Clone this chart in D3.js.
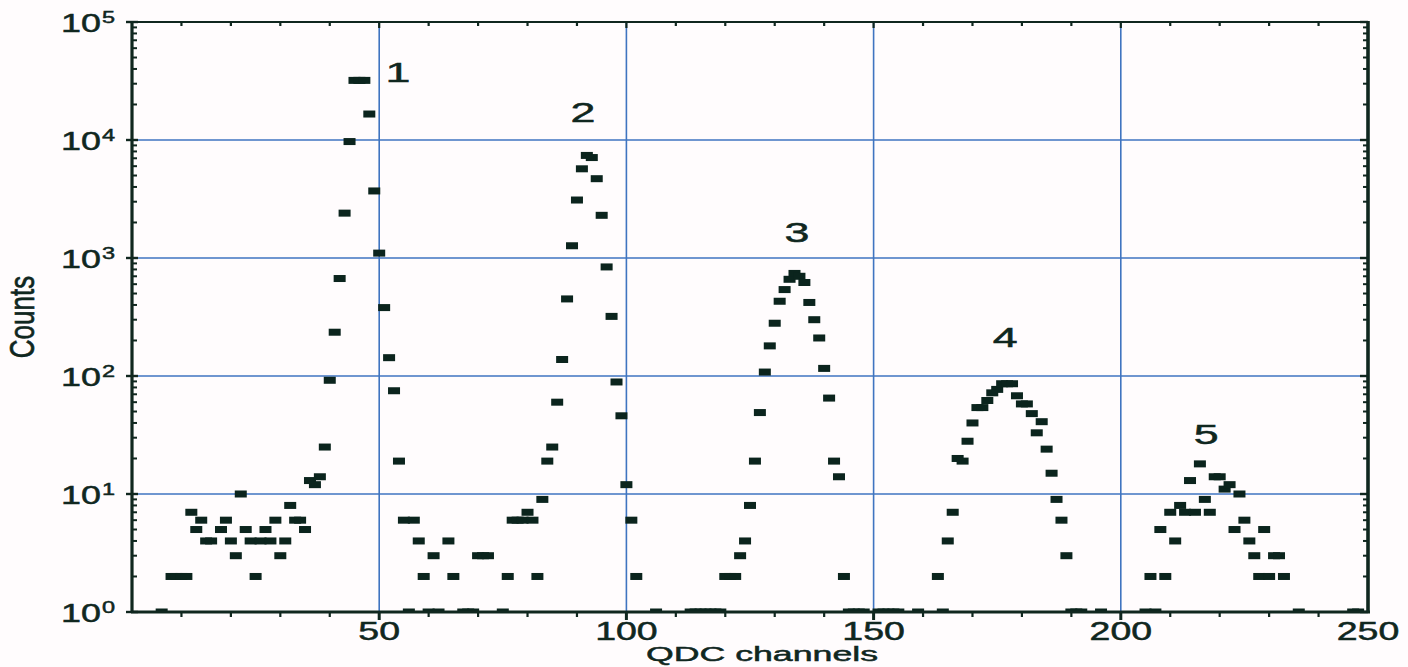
<!DOCTYPE html>
<html>
<head>
<meta charset="utf-8">
<script src="https://cdn.jsdelivr.net/npm/d3@7"></script>
<style>
  body { margin: 0; background: #fffcfd; }
  svg { display: block; }
  text { font-family: "Liberation Sans", Arial, sans-serif; fill: #10271f; stroke: #10271f; stroke-width: 0.5; }
</style>
</head>
<body>
<div id="chart"></div>
<script>
// QDC spectrum, counts per channel (0-count channels are not shown on log axis)
const channels = [
  6, 8, 9, 10, 11, 12, 13, 14, 15, 16, 18, 19, 20, 21, 22, 23, 24, 25, 26, 27, 28, 29, 30,
  31, 32, 33, 34, 35, 36, 37, 38, 39, 40, 41, 42, 43, 44, 45, 46, 47, 48, 49, 50,
  51, 52, 53, 54, 55, 56, 57, 58, 59, 60, 61, 62, 64, 65, 67, 68, 69, 70, 71, 72, 75,
  76, 77, 78, 79, 80, 81, 82, 83, 84, 85, 86, 87, 88, 89, 90, 91, 92, 93, 94, 95,
  96, 97, 98, 99, 100, 101, 102, 106, 113, 114, 115, 116, 117, 118, 119, 120, 121, 122,
  123, 124, 125, 126, 127, 128, 129, 130, 131, 132, 133, 134, 135, 136, 137, 138, 139,
  140, 141, 142, 143, 144, 145, 146, 147, 148, 151, 152, 153, 154, 155, 159, 163, 164,
  165, 166, 167, 168, 169, 170, 171, 172, 173, 174, 175, 176, 177, 178, 179, 180, 181,
  182, 183, 184, 185, 186, 187, 188, 189, 190, 191, 192, 196, 205, 206, 207, 208, 209,
  210, 211, 212, 213, 214, 215, 216, 217, 218, 219, 220, 221, 222, 223, 224, 225, 226,
  227, 228, 229, 230, 231, 232, 233, 236, 247, 248
];
const counts = [
  1, 2, 2, 2, 2, 7, 5, 6, 4, 4, 5, 6, 4, 3, 10, 5, 4, 2, 4, 5, 4, 6, 3,
  4, 8, 6, 6, 5, 13, 12, 14, 25, 92, 235, 670, 2400, 9700, 32000, 32000, 32000, 16600, 3700, 1100,
  380, 143, 75, 19, 6, 1, 6, 4, 2, 1, 3, 1, 4, 2, 1, 1, 1, 3, 3, 3, 1,
  2, 6, 6, 6, 7, 6, 2, 9, 19, 25, 60, 138, 450, 1270, 3100, 5700, 7400, 7100, 4700, 2300,
  840, 320, 89, 46, 12, 6, 2, 1, 1, 1, 1, 1, 1, 1, 1, 2, 2, 2,
  3, 4, 8, 19, 49, 108, 180, 280, 430, 540, 660, 740, 700, 620, 420, 300, 210,
  116, 65, 19, 14, 2, 1, 1, 1, 1, 1, 1, 1, 1, 1, 1, 2, 1,
  4, 7, 20, 19, 28, 40, 54, 54, 62, 72, 77, 86, 86, 86, 68, 58, 58,
  48, 33, 41, 24, 15, 9, 6, 3, 1, 1, 1, 1, 1, 2, 1, 5, 2,
  7, 4, 8, 7, 13, 7, 18, 9, 7, 14, 14, 11, 12, 5, 10, 6, 4,
  3, 2, 5, 2, 3, 3, 2, 1, 1, 1
];

// peak labels
const peakNames = ["1", "2", "3", "4", "5"];
const peakChannels = [53.8, 91.2, 134.5, 176.6, 217.3];
const peakCounts = [37500, 17300, 1660, 214, 32];

const xTicks = [50, 100, 150, 200, 250];
const yTicks = [1, 10, 100, 1000, 10000, 100000];
const yExponents = ["0", "1", "2", "3", "4", "5"];

const width = 1408, height = 667;
const margin = { top: 22, right: 40, bottom: 55, left: 132 };
const ink = "#10271f";
const gridBlue = "#3f74c0";

const svg = d3.select("#chart").append("svg")
  .attr("width", width)
  .attr("height", height);

const x = d3.scaleLinear().domain([0, 250]).range([margin.left, width - margin.right]);
const y = d3.scaleLog().domain([1, 1e5]).range([height - margin.bottom, margin.top]);

const x0 = x.range()[0], x1 = x.range()[1];
const yb = y.range()[0], yt = y.range()[1];

svg.append("clipPath").attr("id", "plotClip")
  .append("rect")
  .attr("x", x0).attr("y", yt)
  .attr("width", x1 - x0).attr("height", yb - yt);

// grid
svg.append("g")
  .selectAll("line")
  .data([50, 100, 150, 200])
  .enter().append("line")
  .attr("x1", d => x(d)).attr("x2", d => x(d))
  .attr("y1", yt).attr("y2", yb)
  .attr("stroke", gridBlue).attr("stroke-width", 1.6);

svg.append("g")
  .selectAll("line")
  .data([10, 100, 1000, 10000])
  .enter().append("line")
  .attr("x1", x0).attr("x2", x1)
  .attr("y1", d => y(d)).attr("y2", d => y(d))
  .attr("stroke", gridBlue).attr("stroke-width", 1.4);

// data markers
const pts = channels.map((c, i) => ({ c: c, v: counts[i] }));
svg.append("g")
  .attr("clip-path", "url(#plotClip)")
  .selectAll("rect")
  .data(pts)
  .enter().append("rect")
  .attr("x", d => x(d.c) - 6)
  .attr("y", d => y(d.v) - 3.5)
  .attr("width", 12)
  .attr("height", 7)
  .attr("fill", "#0b241d");

// minor ticks
const minorX = d3.range(10, 250, 10);
const minorY = [];
for (let e = 0; e < 5; e++) {
  for (let k = 2; k <= 9; k++) minorY.push(k * Math.pow(10, e));
}

// bottom axis ticks (outward)
svg.append("g").selectAll("line")
  .data(minorX)
  .enter().append("line")
  .attr("x1", d => x(d)).attr("x2", d => x(d))
  .attr("y1", yb).attr("y2", d => yb + (d % 50 === 0 ? 8 : 5))
  .attr("stroke", ink).attr("stroke-width", d => d % 50 === 0 ? 3 : 2.2);

// top axis ticks (inward)
svg.append("g").selectAll("line")
  .data(minorX)
  .enter().append("line")
  .attr("x1", d => x(d)).attr("x2", d => x(d))
  .attr("y1", yt).attr("y2", d => yt + (d % 50 === 0 ? 6 : 4))
  .attr("stroke", ink).attr("stroke-width", 2.2);

// left / right axis ticks
svg.append("g").selectAll("line")
  .data(minorY)
  .enter().append("line")
  .attr("x1", x0).attr("x2", x0 + 5)
  .attr("y1", d => y(d)).attr("y2", d => y(d))
  .attr("stroke", ink).attr("stroke-width", 2);
svg.append("g").selectAll("line")
  .data(yTicks)
  .enter().append("line")
  .attr("x1", x0 - 6).attr("x2", x0 + 6)
  .attr("y1", d => y(d)).attr("y2", d => y(d))
  .attr("stroke", ink).attr("stroke-width", 2.4);
svg.append("g").selectAll("line")
  .data(minorY)
  .enter().append("line")
  .attr("x1", x1).attr("x2", x1 - 5)
  .attr("y1", d => y(d)).attr("y2", d => y(d))
  .attr("stroke", ink).attr("stroke-width", 2);
svg.append("g").selectAll("line")
  .data(yTicks)
  .enter().append("line")
  .attr("x1", x1).attr("x2", x1 - 8)
  .attr("y1", d => y(d)).attr("y2", d => y(d))
  .attr("stroke", ink).attr("stroke-width", 2.4);

// frame
svg.append("line").attr("x1", x0 - 1).attr("x2", x1 + 2).attr("y1", yb).attr("y2", yb)
  .attr("stroke", ink).attr("stroke-width", 3);
svg.append("line").attr("x1", x0).attr("x2", x1).attr("y1", yt).attr("y2", yt)
  .attr("stroke", ink).attr("stroke-width", 2.2);
svg.append("line").attr("x1", x0).attr("x2", x0).attr("y1", yt - 1).attr("y2", yb + 1)
  .attr("stroke", ink).attr("stroke-width", 3.2);
svg.append("line").attr("x1", x1).attr("x2", x1).attr("y1", yt - 1).attr("y2", yb + 1)
  .attr("stroke", ink).attr("stroke-width", 3.6);

// x tick labels
svg.append("g").selectAll("text")
  .data(xTicks)
  .enter().append("text")
  .attr("transform", d => `translate(${x(d)},${yb + 28}) scale(1.5,1)`)
  .attr("text-anchor", "middle")
  .style("font-size", "25px")
  .text(d => d);

// y tick labels: 10 with superscript exponent
const yl = svg.append("g").selectAll("g")
  .data(yTicks)
  .enter().append("g");
yl.append("text")
  .attr("transform", d => `translate(101,${y(d) + 9.5}) scale(1.38,1)`)
  .attr("text-anchor", "end")
  .style("font-size", "26px")
  .text("10");
yl.append("text")
  .attr("transform", d => `translate(102,${y(d) + 0.5}) scale(1.38,1)`)
  .attr("text-anchor", "start")
  .style("font-size", "17px")
  .text((d, i) => yExponents[i]);

// axis titles
svg.append("text")
  .attr("transform", `translate(762,${height - 6}) scale(1.7,1)`)
  .attr("text-anchor", "middle")
  .style("font-size", "21px")
  .text("QDC channels");

svg.append("text")
  .attr("transform", `translate(34,317) scale(1.35,1) rotate(-90)`)
  .attr("text-anchor", "middle")
  .style("font-size", "26px")
  .text("Counts");

// peak numbers
svg.append("g").selectAll("text")
  .data(peakNames)
  .enter().append("text")
  .attr("transform", (d, i) => `translate(${x(peakChannels[i])},${y(peakCounts[i]) + 10}) scale(1.6,1)`)
  .attr("text-anchor", "middle")
  .style("font-size", "28px")
  .text(d => d);
</script>
</body>
</html>
